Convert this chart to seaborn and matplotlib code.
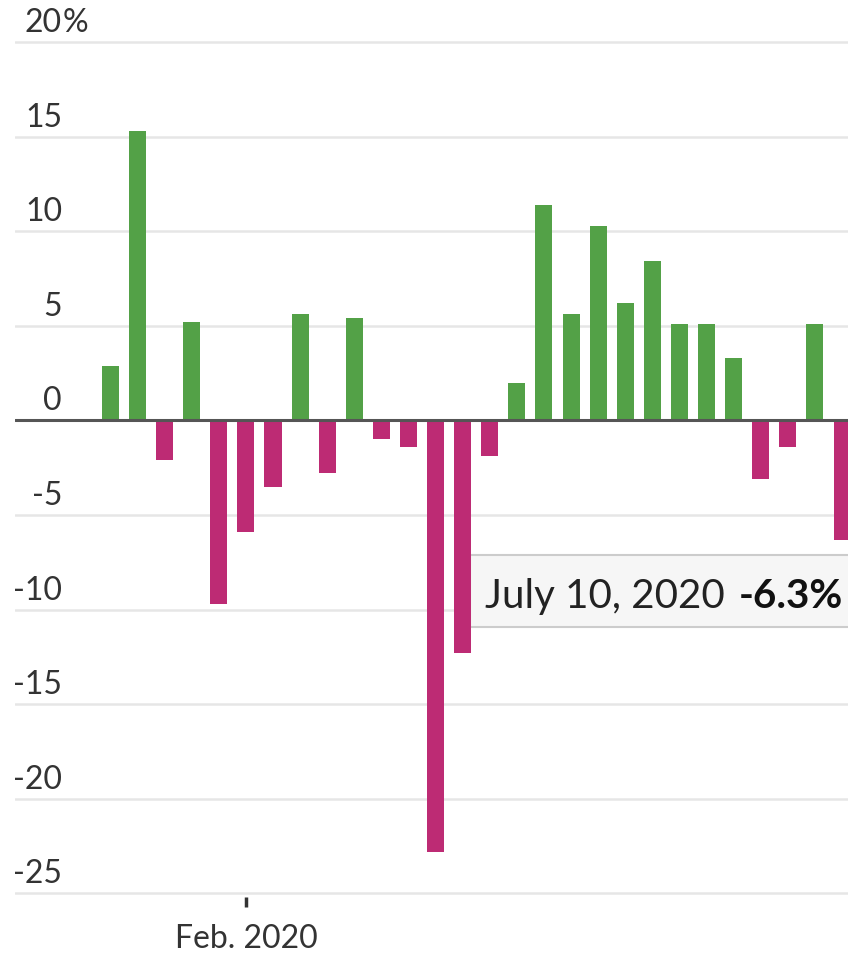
import pandas as pd
import numpy as np
import seaborn as sns
import matplotlib.pyplot as plt
from matplotlib.patches import Rectangle

# weekly change, %, weeks ending on Fridays up to July 10, 2020
week_end = pd.date_range(end="2020-07-10", periods=28, freq="7D")
values = [2.9, 15.3, -2.1, 5.2, -9.7, -5.9, -3.5, 5.6, -2.8, 5.4, -1.0, -1.4,
          -22.8, -12.3, -1.9, 2.0, 11.4, 5.6, 10.3, 6.2, 8.4, 5.1, 5.1, 3.3,
          -3.1, -1.4, 5.1, -6.3]
y_ticks = [20, 15, 10, 5, 0, -5, -10, -15, -20, -25]
x_tick_date = pd.Timestamp("2020-02-01")
x_tick_label = "Feb. 2020"
tip_date = "July 10, 2020"
tip_value = "-6.3%"

df = pd.DataFrame({"week": week_end.strftime("%Y-%m-%d"), "change": values})
df["sign"] = np.where(df["change"] >= 0, "up", "down")

GREEN = "#53a147"
PINK = "#bd2b74"
FONT = ["Lato", "DejaVu Sans"]

sns.set_style("white")
plt.rcParams["font.family"] = FONT

# axes box: y=20 at 42px, y=-25 at 893.4px, small margin so edge grid lines aren't clipped
px_per_unit = (893.4 - 42) / 45
pad_u = 0.2
top_px = 42 - pad_u * px_per_unit
bot_px = 893.4 + pad_u * px_per_unit

fig = plt.figure(figsize=(8.48, 9.58), dpi=100)
ax = fig.add_axes([15 / 848, (958 - bot_px) / 958, 833 / 848, (bot_px - top_px) / 958])

sns.barplot(data=df, x="week", y="change", hue="sign",
            palette={"up": GREEN, "down": PINK}, dodge=False, width=0.63,
            saturation=1, linewidth=0, legend=False, ax=ax, zorder=2)

ax.set_xlim(-3.52, 27.22)
ax.set_ylim(-25 - pad_u, 20 + pad_u)
ax.set_xlabel("")
ax.set_ylabel("")
for s in ax.spines.values():
    s.set_visible(False)

ax.set_yticks(y_ticks)
ax.yaxis.grid(True, color="#e6e6e6", lw=1.8)
ax.set_axisbelow(True)
ax.tick_params(axis="y", length=0, labelleft=False)
ax.axhline(0, color="#555555", lw=2.2, zorder=3)

# y labels sit above their grid lines
ytrans = ax.get_yaxis_transform()
lab_x = (62 - 15) / 833
for v in y_ticks:
    ax.annotate(str(v), xy=(lab_x, v), xycoords=ytrans, xytext=(0, 10),
                textcoords="offset pixels", ha="right", va="baseline",
                fontsize=23, color="#333333")
ax.annotate("%", xy=(lab_x, 20), xycoords=ytrans, xytext=(1, 10),
            textcoords="offset pixels", ha="left", va="baseline",
            fontsize=23, color="#333333")

# single date tick, bars drawn at the start of each week
week_start = week_end - pd.Timedelta(days=6)
tick_pos = (x_tick_date - week_start[0]).days / 7
ax.set_xticks([tick_pos])
ax.set_xticklabels([x_tick_label])
ax.tick_params(axis="x", length=7, width=2.5, color="#333333", pad=12,
               labelsize=23, labelcolor="#333333", bottom=True)

# hover tooltip
tip = Rectangle((470 / 848, (958 - 627) / 958), 400 / 848, 72 / 958,
                transform=fig.transFigure, facecolor="#f6f6f6",
                edgecolor="#cccccc", lw=1.5, zorder=1.5, clip_on=False)
ax.add_patch(tip)
fig.text(485 / 848, (958 - 608) / 958, tip_date, fontsize=29, color="#222222",
         ha="left", va="baseline", zorder=5)
fig.text(843 / 848, (958 - 608) / 958, tip_value, fontsize=29, color="#111111",
         weight="bold", ha="right", va="baseline", zorder=5)

fig.savefig("out.png", dpi=100)
